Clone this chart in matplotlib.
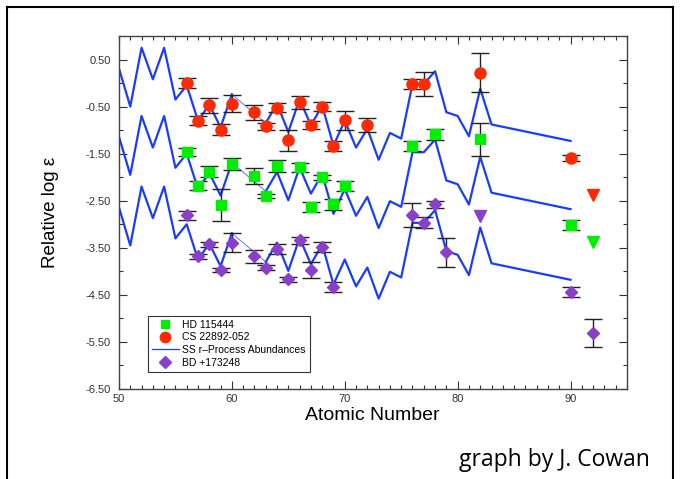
import matplotlib
matplotlib.use("Agg")
import matplotlib.pyplot as plt
from matplotlib.lines import Line2D
from matplotlib.ticker import MultipleLocator, FormatStrFormatter

# ---- data ----
# Solar-system r-process curve (top copy), shifted down for the other two stars
ss_z = [50, 51, 52, 53, 54, 55, 56, 57, 58, 59, 60,
        63, 64, 65, 66, 67, 68, 69, 70, 71, 72, 73, 74, 75, 76, 77, 78,
        79, 80, 81, 82, 83, 90]
ss_val = [0.31, -0.50, 0.75, 0.08, 0.75, -0.35, -0.05, -0.80, -0.46, -0.94, -0.24,
          -0.85, -0.44, -1.04, -0.34, -0.90, -0.48, -1.33, -0.80, -1.37, -0.97,
          -1.63, -1.06, -1.18, -0.02, -0.02, 0.25, -0.62, -0.70, -1.13, -0.12,
          -0.88, -1.23]
ss_offsets = [0.0, -1.45, -2.95]

cs_z = [56, 57, 58, 59, 60, 62, 63, 64, 65, 66, 67, 68, 69, 70, 72, 76, 77, 82, 90]
cs_val = [0.00, -0.80, -0.47, -0.99, -0.44, -0.62, -0.92, -0.52, -1.22, -0.41,
          -0.89, -0.50, -1.34, -0.79, -0.89, -0.02, -0.02, 0.22, -1.59]
cs_err = [0.10, 0.09, 0.16, 0.11, 0.18, 0.16, 0.08, 0.10, 0.23, 0.14,
          0.09, 0.10, 0.11, 0.20, 0.14, 0.11, 0.26, 0.41, 0.07]
cs_lim_z = [92]
cs_lim_val = [-2.38]

hd_z = [56, 57, 58, 59, 60, 62, 63, 64, 66, 67, 68, 69, 70, 76, 78, 82, 90]
hd_val = [-1.47, -2.18, -1.88, -2.60, -1.72, -1.97, -2.40, -1.76, -1.79, -2.63,
          -2.00, -2.58, -2.19, -1.34, -1.09, -1.19, -3.02]
hd_err = [0.09, 0.10, 0.12, 0.34, 0.12, 0.17, 0.05, 0.12, 0.10, 0.11,
          0.05, 0.11, 0.10, 0.10, 0.11, 0.35, 0.10]
hd_lim_z = [92]
hd_lim_val = [-3.38]

bd_z = [56, 57, 58, 59, 60, 62, 63, 64, 65, 66, 67, 68, 69, 76, 77, 78, 79, 90, 92]
bd_val = [-2.81, -3.68, -3.43, -3.97, -3.39, -3.68, -3.92, -3.53, -4.17, -3.34,
          -3.97, -3.48, -4.33, -2.80, -2.97, -2.58, -3.60, -4.44, -5.31]
bd_err = [0.09, 0.05, 0.06, 0.05, 0.20, 0.14, 0.05, 0.10, 0.05, 0.07,
          0.17, 0.11, 0.10, 0.25, 0.12, 0.07, 0.30, 0.10, 0.30]
bd_lim_z = [82]
bd_lim_val = [-2.83]

RED = "#ff2a00"
GREEN = "#00ee00"
PURPLE = "#8a3fc8"
BLUE = "#1a3cff"

plt.rcParams["font.family"] = ["Liberation Sans", "DejaVu Sans"]

fig = plt.figure(figsize=(6.81, 4.79), dpi=100)
ax = fig.add_axes([0.1747, 0.1879, 0.746, 0.7370])

# SS curves: thin segment where element 61/62 is skipped
gap = ss_z.index(60)
for off in ss_offsets:
    y = [v + off for v in ss_val]
    ax.plot(ss_z[:gap + 1], y[:gap + 1], color=BLUE, lw=1.6, zorder=2)
    ax.plot(ss_z[gap:gap + 2], y[gap:gap + 2], color=BLUE, lw=0.7, alpha=0.7, zorder=2)
    ax.plot(ss_z[gap + 1:], y[gap + 1:], color=BLUE, lw=1.6, zorder=2)

eb = dict(fmt="none", ecolor="#222222", elinewidth=1.0, capsize=6.5, capthick=1.0, zorder=3)
ax.errorbar(cs_z, cs_val, yerr=cs_err, **eb)
ax.errorbar(hd_z, hd_val, yerr=hd_err, **eb)
ax.errorbar(bd_z, bd_val, yerr=bd_err, **eb)

ax.plot(cs_z, cs_val, "o", color=RED, ms=8, mec=RED, zorder=4)
ax.plot(hd_z, hd_val, "s", color=GREEN, ms=7, mec=GREEN, zorder=4)
ax.plot(bd_z, bd_val, "D", color=PURPLE, ms=6.5, mec=PURPLE, zorder=4)

ax.plot(cs_lim_z, cs_lim_val, "v", color=RED, ms=8, zorder=4)
ax.plot(hd_lim_z, hd_lim_val, "v", color=GREEN, ms=8, zorder=4)
ax.plot(bd_lim_z, bd_lim_val, "v", color=PURPLE, ms=8, zorder=4)

ax.set_xlim(50, 95)
ax.set_ylim(-6.5, 1.0)
ax.xaxis.set_major_locator(MultipleLocator(10))
ax.xaxis.set_minor_locator(MultipleLocator(1))
ax.set_yticks([0.5, -0.5, -1.5, -2.5, -3.5, -4.5, -5.5, -6.5])
ax.yaxis.set_minor_locator(MultipleLocator(0.5))
ax.yaxis.set_major_formatter(FormatStrFormatter("%.2f"))
ax.tick_params(which="both", direction="in", top=True, right=True,
               labelsize=8, labelcolor="#333333", color="#333333")
ax.tick_params(which="major", length=6, width=0.8)
ax.tick_params(which="minor", length=3, width=0.8)
ax.tick_params(axis="y", pad=6)
for s in ax.spines.values():
    s.set_color("#444444")
    s.set_linewidth(1.0)

ax.set_xlabel("Atomic Number", fontsize=14)
ax.xaxis.set_label_coords(0.498, -0.052)
ax.set_ylabel("Relative log ε", fontsize=13.5)
ax.yaxis.set_label_coords(-0.118, 0.5)

handles = [
    Line2D([], [], ls="none", marker="s", color=GREEN, ms=6),
    Line2D([], [], ls="none", marker="o", color=RED, ms=7.5),
    Line2D([], [], color=BLUE, lw=0.9),
    Line2D([], [], ls="none", marker="D", color=PURPLE, ms=6),
]
labels = ["HD 115444", "CS 22892-052", "SS r\u2013Process Abundances", "BD +173248"]
leg = ax.legend(handles, labels, loc="lower left", bbox_to_anchor=(0.0565, 0.049),
                borderaxespad=0, fontsize=7.5, frameon=True, fancybox=False,
                edgecolor="black", handlelength=2.6, handletextpad=0.3,
                labelspacing=0.25, borderpad=0.4)
leg.get_frame().set_linewidth(0.8)

fig.text(0.955, 1 - 460 / 479, "graph by J. Cowan", ha="right", va="center",
         fontsize=16.5, family=["Open Sans", "DejaVu Sans"])

# outer frame of the slide
for xs, ys in [([7 / 681, 7 / 681], [0, 1 - 7 / 479]),
               ([7 / 681, 673 / 681], [1 - 7 / 479, 1 - 7 / 479]),
               ([673 / 681, 673 / 681], [0, 1 - 7 / 479])]:
    fig.add_artist(Line2D(xs, ys, color="black", lw=1.5, transform=fig.transFigure))

fig.savefig("out.png", dpi=100)
